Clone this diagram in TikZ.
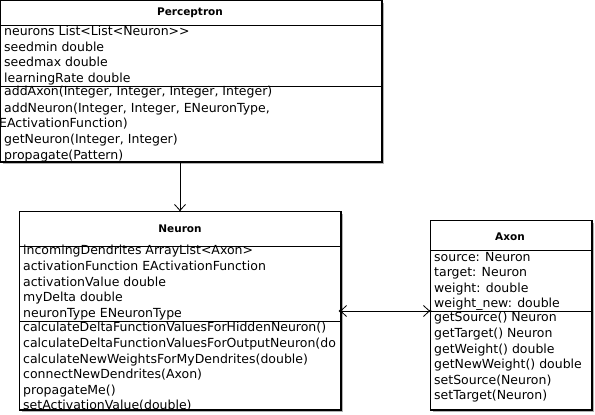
\documentclass[tikz,border=0pt]{standalone}
\usepackage{fontspec}
\setmainfont{DejaVu Sans}
\usetikzlibrary{arrows.meta}
\tikzset{
  classbox/.style={draw=black, line width=1pt, fill=white, anchor=north west, inner sep=0pt},
  divider/.style={draw=black, line width=0.8pt},
  title/.style={font=\fontsize{10.5}{12}\selectfont\bfseries, inner sep=0pt},
  member/.style={font=\fontsize{12.5}{14}\selectfont, anchor=base west, inner sep=0pt},
  assoc/.style={draw=black, line width=0.8pt},
  opentip/.style={-{Straight Barb[length=6pt,width=11pt]}},
}
\begin{document}
\begin{tikzpicture}[x=1pt,y=-1pt]
\useasboundingbox (0,0) rectangle (595,415);
% shadows
\fill[black!30] (3,3) rectangle (384,164);
\fill[black!30] (22,214) rectangle (343,412);
\fill[black!30] (433,223) rectangle (594,412);
% boxes
\node[classbox, minimum width=381pt, minimum height=161pt] (perc) at (0,0) {};
\node[classbox, minimum width=321pt, minimum height=198pt] (neur) at (19,211) {};
\node[classbox, minimum width=161pt, minimum height=189pt] (axon) at (430,220) {};
% titles
\node[title] (ptitle) at (190,13) {Perceptron};
\node[title] (ntitle) at (180,229) {Neuron};
\node[title] (atitle) at (510,237) {Axon};
% Perceptron members
\begin{scope}
\clip (0,0) rectangle (381,161);
\node[member] (p1) at (4,35) {neurons List<List<Neuron>{}>};
\node[member] (p2) at (4,51) {seedmin double};
\node[member] (p3) at (4,66) {seedmax double};
\node[member] (p4) at (4,82) {learningRate double};
\node[member] (p5) at (4,95) {addAxon(Integer, Integer, Integer, Integer)};
\node[member] (p6) at (4,112) {addNeuron(Integer, Integer, ENeuronType,};
\node[member] (p7) at (-1,127) {EActivationFunction)};
\node[member] (p8) at (4,143) {getNeuron(Integer, Integer)};
\node[member] (p9) at (4,159) {propagate(Pattern)};
\end{scope}
% Neuron members
\begin{scope}
\clip (19,211) rectangle (340,409);
\node[member] (n1) at (23,254) {incomingDendrites ArrayList<Axon>};
\node[member] (n2) at (23,270) {activationFunction EActivationFunction};
\node[member] (n3) at (23,286) {activationValue double};
\node[member] (n4) at (23,301) {myDelta double};
\node[member] (n5) at (23,317) {neuronType ENeuronType};
\node[member] (n6) at (23,331) {calculateDeltaFunctionValuesForHiddenNeuron()};
\node[member] (n7) at (23,347) {calculateDeltaFunctionValuesForOutputNeuron(do};
\node[member] (n8) at (23,363) {calculateNewWeightsForMyDendrites(double)};
\node[member] (n9) at (23,378) {connectNewDendrites(Axon)};
\node[member] (n10) at (23,394) {propagateMe()};
\node[member] (n11) at (23,409) {setActivationValue(double)};
\end{scope}
% Axon members
\begin{scope}
\clip (430,220) rectangle (591,409);
\node[member] (a1) at (434,261) {source: Neuron};
\node[member] (a2) at (434,276) {target: Neuron};
\node[member] (a3) at (434,292) {weight: double};
\node[member] (a4) at (434,307) {weight\_new: double};
\node[member] (a5) at (434,321) {getSource() Neuron};
\node[member] (a6) at (434,337) {getTarget() Neuron};
\node[member] (a7) at (434,353) {getWeight() double};
\node[member] (a8) at (434,368) {getNewWeight() double};
\node[member] (a9) at (434,384) {setSource(Neuron)};
\node[member] (a10) at (434,399) {setTarget(Neuron)};
\end{scope}
% box borders and dividers on top
\draw[line width=1pt] (perc.north west) rectangle (perc.south east);
\draw[line width=1pt] (neur.north west) rectangle (neur.south east);
\draw[line width=1pt] (axon.north west) rectangle (axon.south east);
\draw[divider] (0,25) -- (381,25);
\draw[divider] (0,86) -- (381,86);
\draw[divider] (19,246) -- (340,246);
\draw[divider] (19,321) -- (340,321);
\draw[divider] (430,250) -- (591,250);
\draw[divider] (430,311) -- (591,311);
% connectors
\coordinate (pbot) at (180,161);
\coordinate (ntop) at (180,211);
\coordinate (nright) at (340,311);
\coordinate (aleft) at (430,311);
\draw[assoc, opentip] (pbot) -- (ntop);
\draw[assoc, {Straight Barb[length=6pt,width=11pt]}-{Straight Barb[length=6pt,width=11pt]}] (nright) -- (aleft);
\fill (ntop) circle (1.2pt);
\fill (nright) circle (1.5pt);
\fill (aleft) circle (1.5pt);
\end{tikzpicture}
\end{document}
